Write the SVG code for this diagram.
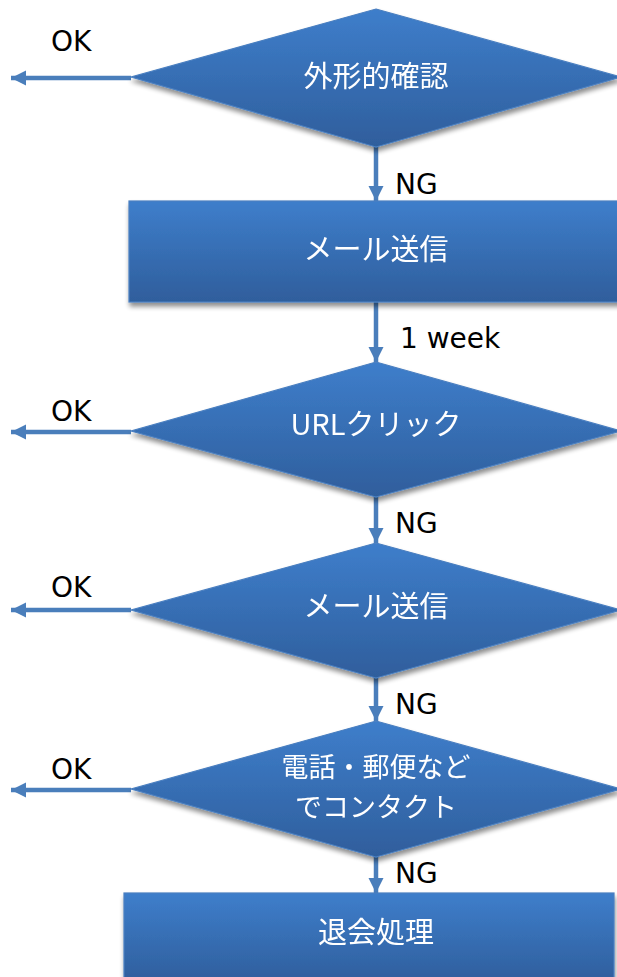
<svg xmlns="http://www.w3.org/2000/svg" width="617" height="977" viewBox="0 0 617 977">
<style>
.node{fill:url(#g);stroke:#4a7fc0;stroke-width:1.2}
.nt{fill:#ffffff;font-family:"Noto Sans CJK JP","DejaVu Sans",sans-serif;font-size:29px;text-anchor:middle}
.nt2{font-size:27px}
.lb{fill:#000000;font-family:"DejaVu Sans","Noto Sans CJK JP",sans-serif;font-size:28px}
.cn{stroke:#4a7ebb;stroke-width:4.5;fill:none;marker-end:url(#ah)}
</style>
<defs>
<linearGradient id="g" x1="0" y1="0" x2="0" y2="1">
<stop offset="0" stop-color="#3e7ecb"/>
<stop offset="1" stop-color="#2f5e9c"/>
</linearGradient>
<filter id="sh" x="-10%" y="-10%" width="130%" height="140%">
<feGaussianBlur in="SourceAlpha" stdDeviation="2.5"/>
<feOffset dx="1" dy="4" result="b"/>
<feComponentTransfer><feFuncA type="linear" slope="0.45"/></feComponentTransfer>
<feMerge><feMergeNode/><feMergeNode in="SourceGraphic"/></feMerge>
</filter>
<marker id="ah" markerUnits="userSpaceOnUse" markerWidth="16" markerHeight="16" viewBox="0 0 16 16" refX="15" refY="8" orient="auto">
<path d="M0,0.5 L15,8 L0,15.5 z" fill="#4a7ebb"/>
</marker>
</defs>

<g id="connectors">
<line class="cn" x1="131" y1="78" x2="11" y2="78"/>
<line class="cn" x1="376" y1="147" x2="376" y2="201"/>
<line class="cn" x1="376" y1="302" x2="376" y2="362"/>
<line class="cn" x1="131" y1="432" x2="11" y2="432"/>
<line class="cn" x1="376" y1="497" x2="376" y2="543"/>
<line class="cn" x1="131" y1="610" x2="11" y2="610"/>
<line class="cn" x1="376" y1="678" x2="376" y2="721"/>
<line class="cn" x1="131" y1="790" x2="11" y2="790"/>
<line class="cn" x1="376" y1="852" x2="376" y2="893"/>
</g>

<g id="labels">
<text class="lb" x="51" y="51">OK</text>
<text class="lb" x="395" y="194">NG</text>
<text class="lb" x="400" y="348">1 week</text>
<text class="lb" x="51" y="421">OK</text>
<text class="lb" x="395" y="533">NG</text>
<text class="lb" x="51" y="597">OK</text>
<text class="lb" x="395" y="714">NG</text>
<text class="lb" x="51" y="779">OK</text>
<text class="lb" x="395" y="883">NG</text>
</g>

<g id="n1" filter="url(#sh)">
<polygon class="node" points="376,9 621,77 376,147 131,77"/>
<text class="nt" x="376" y="87">外形的確認</text>
</g>

<g id="n2" filter="url(#sh)">
<rect class="node" x="129" y="201" width="494" height="101"/>
<text class="nt" x="376" y="260">メール送信</text>
</g>

<g id="n3" filter="url(#sh)">
<polygon class="node" points="376,362 621,431 376,497 131,431"/>
<text class="nt" x="376" y="435">URLクリック</text>
</g>

<g id="n4" filter="url(#sh)">
<polygon class="node" points="376,543 621,610 376,678 131,610"/>
<text class="nt" x="376" y="617">メール送信</text>
</g>

<g id="n5" filter="url(#sh)">
<polygon class="node" points="376,721 621,789 376,857 131,789"/>
<text class="nt nt2" x="376" y="777">電話・郵便など</text>
<text class="nt nt2" x="376" y="817">でコンタクト</text>
</g>

<g id="n6" filter="url(#sh)">
<rect class="node" x="124" y="893" width="490" height="90"/>
<text class="nt" x="376" y="943">退会処理</text>
</g>
</svg>
